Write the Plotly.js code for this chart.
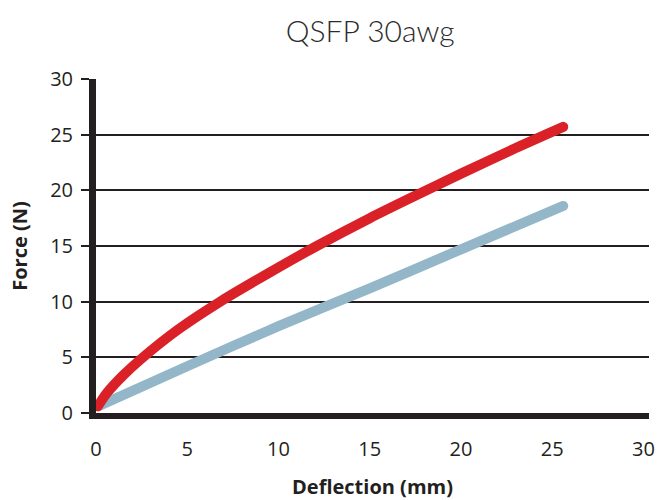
<!DOCTYPE html>
<html>
<head>
<meta charset="utf-8">
<script src="https://cdn.plot.ly/plotly-3.0.1.min.js"></script>
<style>
html,body{margin:0;padding:0;background:#fff;}
#chart{width:661px;height:500px;}
path.js-line{stroke-linecap:round !important;}
</style>
</head>
<body>
<div id="chart"></div>
<script>
// Data
const redX = [0.1, 0.6, 1.5, 2.5, 4.5, 6.8, 9.6, 12.1, 15.0, 17.6, 20.0, 23.0, 25.6];
const redY = [0.6, 1.8, 3.4, 4.9, 7.5, 10.0, 12.7, 15.0, 17.5, 19.6, 21.5, 23.8, 25.7];
const blueX = [0.1, 5, 10, 15, 20, 25.6];
const blueY = [0.6, 4.2, 7.8, 11.2, 14.7, 18.6];
const xTicks = [0, 5, 10, 15, 20, 25, 30];
const yTicks = [0, 5, 10, 15, 20, 25, 30];

const traces = [
  {x: blueX, y: blueY, mode: 'lines', line: {color: '#93B7C9', width: 10, shape: 'spline', smoothing: 0.8}, hoverinfo: 'skip'},
  {x: redX, y: redY, mode: 'lines', line: {color: '#DA2128', width: 10, shape: 'spline', smoothing: 0.8}, hoverinfo: 'skip'}
];

const layout = {
  width: 661, height: 500,
  margin: {l: 96, r: 12, t: 79, b: 87},
  paper_bgcolor: '#fff', plot_bgcolor: '#fff',
  showlegend: false,
  title: {text: 'QSFP 30awg', x: 0.56, xanchor: 'center', y: 0.937, yanchor: 'middle',
          font: {family: 'Lato', size: 30, weight: 300, color: '#2b2b2b'}},
  xaxis: {
    range: [0, 30.3], tickvals: xTicks, ticktext: xTicks.map(String),
    showgrid: false, zeroline: false,
    showline: true, linecolor: '#231F20', linewidth: 6,
    ticks: '', ticklabelstandoff: 13,
    tickfont: {family: 'Open Sans', size: 20, color: '#231F20'},
    title: {text: '<b>Deflection (mm)</b>', standoff: 26, font: {family: 'Open Sans', size: 20, color: '#231F20'}}
  },
  yaxis: {
    range: [0, 30], tickvals: yTicks, ticktext: yTicks.map(String),
    showgrid: true, gridcolor: '#231F20', gridwidth: 2,
    zeroline: false,
    showline: true, linecolor: '#231F20', linewidth: 7,
    ticks: 'outside', ticklen: 8, tickwidth: 2, tickcolor: '#231F20',
    ticklabelstandoff: 4,
    tickfont: {family: 'Open Sans', size: 20, color: '#231F20'},
    title: {text: '<b>Force (N)</b>', standoff: 20, font: {family: 'Open Sans', size: 20, color: '#231F20'}}
  }
};

Plotly.newPlot('chart', traces, layout, {staticPlot: true, displayModeBar: false});
</script>
</body>
</html>
